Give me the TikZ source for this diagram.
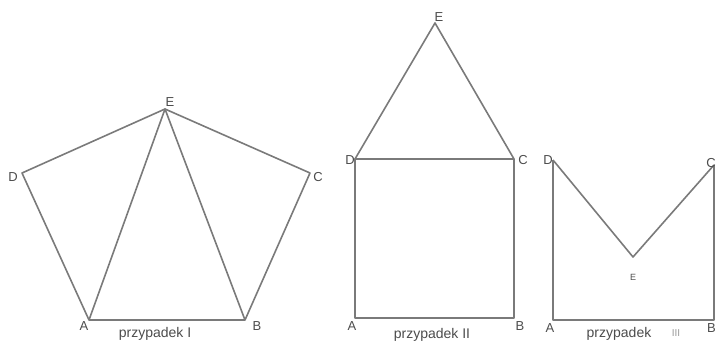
\documentclass[tikz,border=0pt]{standalone}
\usepackage{fontspec}
\setmainfont{Liberation Sans}
\usetikzlibrary{positioning}

\begin{document}
\begin{tikzpicture}[x=1pt, y=-1pt, line join=round,
    edge/.style={draw=black!52, line width=1.6pt},
    vlabel/.style={text=black!70, inner sep=0pt, font=\fontsize{13}{13}\selectfont},
    caption/.style={text=black!70, inner sep=0pt, font=\fontsize{14}{14}\selectfont}]
  \useasboundingbox (0,0) rectangle (716,343);
  \clip (0,0) rectangle (716,343);
  % przypadek I: pentagon with triangle ABE
  \coordinate (A1) at (89,320);
  \coordinate (B1) at (245,320);
  \coordinate (C1) at (310,173);
  \coordinate (E1) at (165,109);
  \coordinate (D1) at (22,173);
  \draw[edge] (A1) -- (B1) -- (C1) -- (E1) -- (D1) -- cycle;
  \draw[edge] (A1) -- (E1) -- (B1);
  \node[vlabel] (lA1) at (84,326) {A};
  \node[vlabel] (lB1) at (257,326) {B};
  \node[vlabel] (lC1) at (318,177) {C};
  \node[vlabel] (lD1) at (13,177) {D};
  \node[vlabel] (lE1) at (170,102) {E};
  \node[caption] (cap1) at (155,334) {przypadek I};
  % przypadek II: square with triangle on top
  \coordinate (A2) at (355,318);
  \coordinate (B2) at (514,318);
  \coordinate (C2) at (514,159);
  \coordinate (D2) at (355,159);
  \coordinate (E2) at (435,23);
  \draw[edge] (A2) -- (B2) -- (C2) -- (D2) -- cycle;
  \draw[edge] (D2) -- (E2) -- (C2);
  \node[vlabel] (lA2) at (352,326) {A};
  \node[vlabel] (lB2) at (520,326) {B};
  \node[vlabel] (lC2) at (523,160) {C};
  \node[vlabel] (lD2) at (350,160) {D};
  \node[vlabel] (lE2) at (439,17) {E};
  \node[caption] (cap2) at (432,335) {przypadek II};
  % przypadek III: triangle folded inside the square
  \coordinate (A3) at (553,320);
  \coordinate (B3) at (714,320);
  \coordinate (C3) at (714,165);
  \coordinate (D3) at (553,160);
  \coordinate (E3) at (633,257);
  \draw[edge] (D3) -- (A3) -- (B3) -- (C3);
  \draw[edge] (D3) -- (E3) -- (C3);
  \node[vlabel] (lA3) at (550,328) {A};
  \node[vlabel, anchor=east] (lB3) at (716,328) {B};
  \node[vlabel, anchor=east] (lC3) at (716,163) {C};
  \node[vlabel] (lD3) at (548,160) {D};
  \node[vlabel, font=\fontsize{9}{9}\selectfont] (lE3) at (633,277) {E};
  \node[caption] (cap3) at (619,334) {przypadek};
  \node[caption, text=black!40, font=\fontsize{10}{10}\selectfont] (num3) at (676,333) {III};
\end{tikzpicture}
\end{document}
